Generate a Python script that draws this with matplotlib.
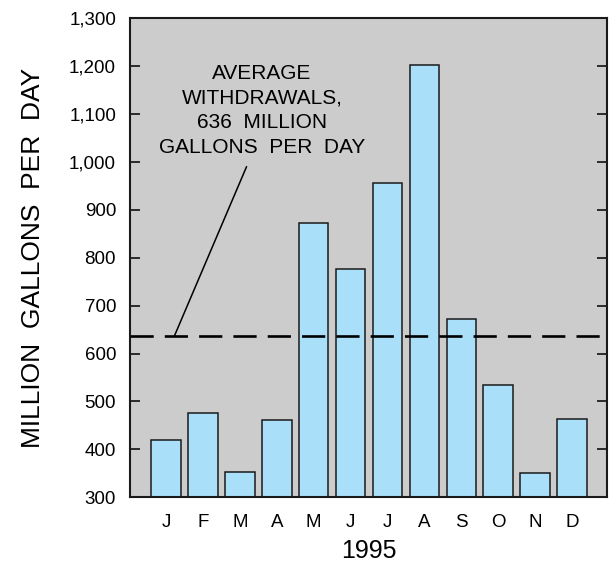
import matplotlib
matplotlib.use("Agg")
import matplotlib.pyplot as plt
from matplotlib.ticker import FuncFormatter

plt.rcParams['font.family'] = ['Liberation Sans', 'DejaVu Sans']

months = ['J', 'F', 'M', 'A', 'M', 'J', 'J', 'A', 'S', 'O', 'N', 'D']
withdrawals = [420, 476, 352, 461, 873, 777, 955, 1201, 673, 535, 351, 463]
average = 636
year = '1995'

fig = plt.figure(figsize=(6.10, 5.64), dpi=100)
ax = fig.add_axes([0.2131, 0.1182, 0.782, 0.8498])
ax.set_facecolor('#cccccc')

x = list(range(len(months)))
ax.bar(x, withdrawals, width=0.8, bottom=0, color='#aadff9',
       edgecolor='#1a1a1a', linewidth=1.1, zorder=2)

# average line
ax.axhline(average, color='black', linewidth=1.9, dashes=(8.8, 4.2), zorder=3)

ax.set_xlim(-0.98, 11.95)
ax.set_ylim(300, 1300)
ax.set_yticks(range(300, 1301, 100))
ax.yaxis.set_major_formatter(FuncFormatter(lambda v, p: f'{int(v):,}'))
ax.set_xticks(x)
ax.set_xticklabels(months)

ax.tick_params(axis='y', direction='in', length=7, width=1.1, labelsize=13.5,
               pad=10, right=True, colors='black')
ax.tick_params(axis='x', length=0, labelsize=13.5, pad=12)

for s in ax.spines.values():
    s.set_linewidth(1.5)
    s.set_color('#1a1a1a')

ax.set_ylabel('MILLION  GALLONS  PER  DAY', fontsize=19, labelpad=17)
ax.set_xlabel(year, fontsize=18, labelpad=6)

# label and leader line for the average
ax.text(2.6, 1108, 'AVERAGE\nWITHDRAWALS,\n636  MILLION\nGALLONS  PER  DAY',
        ha='center', va='center', fontsize=15, linespacing=1.38, zorder=4)
ax.annotate('', xy=(0.22, average), xytext=(2.18, 990),
            arrowprops=dict(arrowstyle='-', color='black', lw=1.1,
                            shrinkA=0, shrinkB=0),
            zorder=4)

fig.savefig('out.png', dpi=100)
